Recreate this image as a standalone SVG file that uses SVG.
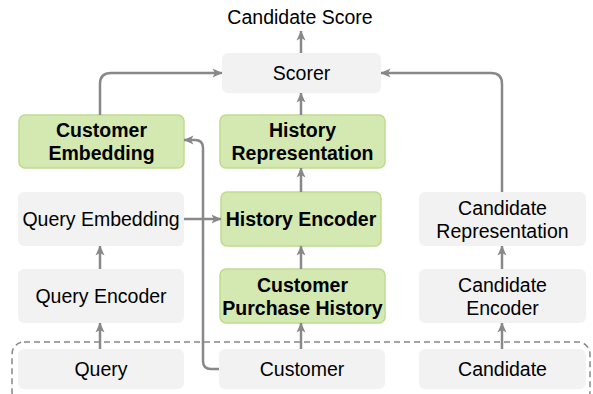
<svg xmlns="http://www.w3.org/2000/svg" width="593" height="394" viewBox="0 0 593 394">
<style>
.g{fill:#f2f2f2}
.gr{fill:#d4e8b1;stroke:#bedb8f;stroke-width:1.5}
text{font-family:"Liberation Sans",Arial,sans-serif;font-size:19.5px;fill:#000;text-anchor:middle}
.b{font-weight:bold}
.c{fill:none;stroke:#888888;stroke-width:2.5}
</style>
<defs>
<marker id="ah" viewBox="0 0 10 10" markerWidth="10" markerHeight="10" refX="9.5" refY="5" orient="auto" markerUnits="userSpaceOnUse">
<path d="M0,0.5 L10,5 L0,9.5 L2.5,5 z" fill="#888888"/>
</marker>
</defs>
<rect x="12" y="342" width="578" height="62" rx="12" fill="none" stroke="#888888" stroke-width="1.5" stroke-dasharray="6,4"/>
<g id="candidate-score"><text x="300" y="24">Candidate Score</text></g>
<g id="scorer"><rect class="g" x="222" y="53" width="159" height="40" rx="6"/><text x="301.5" y="80">Scorer</text></g>
<g id="customer-embedding"><rect class="gr" x="19" y="115" width="165" height="53" rx="6"/><text class="b" x="101.5" y="137">Customer</text><text class="b" x="101.5" y="160">Embedding</text></g>
<g id="history-representation"><rect class="gr" x="220" y="115" width="165" height="53" rx="6"/><text class="b" x="302.5" y="137">History</text><text class="b" x="302.5" y="160">Representation</text></g>
<g id="query-embedding"><rect class="g" x="18" y="192" width="166" height="54" rx="6"/><text x="101" y="226">Query Embedding</text></g>
<g id="history-encoder"><rect class="gr" x="221" y="192" width="160" height="54" rx="6"/><text class="b" x="301" y="226">History Encoder</text></g>
<g id="candidate-representation"><rect class="g" x="419" y="192" width="167" height="54" rx="6"/><text x="502.5" y="215">Candidate</text><text x="502.5" y="238">Representation</text></g>
<g id="query-encoder"><rect class="g" x="18" y="269" width="166" height="54" rx="6"/><text x="101" y="303">Query Encoder</text></g>
<g id="customer-purchase-history"><rect class="gr" x="220" y="269" width="165" height="54" rx="6"/><text class="b" x="302.5" y="292">Customer</text><text class="b" x="302.5" y="315">Purchase History</text></g>
<g id="candidate-encoder"><rect class="g" x="419" y="269" width="167" height="54" rx="6"/><text x="502.5" y="292">Candidate</text><text x="502.5" y="315">Encoder</text></g>
<g id="query"><rect class="g" x="18" y="349" width="166" height="40" rx="6"/><text x="101" y="376">Query</text></g>
<g id="customer"><rect class="g" x="219" y="349" width="166" height="40" rx="6"/><text x="302" y="376">Customer</text></g>
<g id="candidate"><rect class="g" x="419" y="349" width="167" height="40" rx="6"/><text x="502.5" y="376">Candidate</text></g>
<g id="connectors" marker-end="url(#ah)">
<path class="c" d="M301 53 V31" marker-end="url(#ah)"/>
<path class="c" d="M301 115 V93" marker-end="url(#ah)"/>
<path class="c" d="M301 192 V168" marker-end="url(#ah)"/>
<path class="c" d="M301 269 V246" marker-end="url(#ah)"/>
<path class="c" d="M301 349 V323" marker-end="url(#ah)"/>
<path class="c" d="M100 269 V246" marker-end="url(#ah)"/>
<path class="c" d="M100 349 V323" marker-end="url(#ah)"/>
<path class="c" d="M502 269 V246" marker-end="url(#ah)"/>
<path class="c" d="M502 349 V323" marker-end="url(#ah)"/>
<path class="c" d="M184 219 H221" marker-end="url(#ah)"/>
<path class="c" d="M100 115 V84 Q100 73 111 73 H222" marker-end="url(#ah)"/>
<path class="c" d="M502 192 V84 Q502 73 491 73 H381" marker-end="url(#ah)"/>
<path class="c" d="M219 369 H211 Q203 369 203 361 V148 Q203 140 195 140 H184" marker-end="url(#ah)"/>
</g>
</svg>
